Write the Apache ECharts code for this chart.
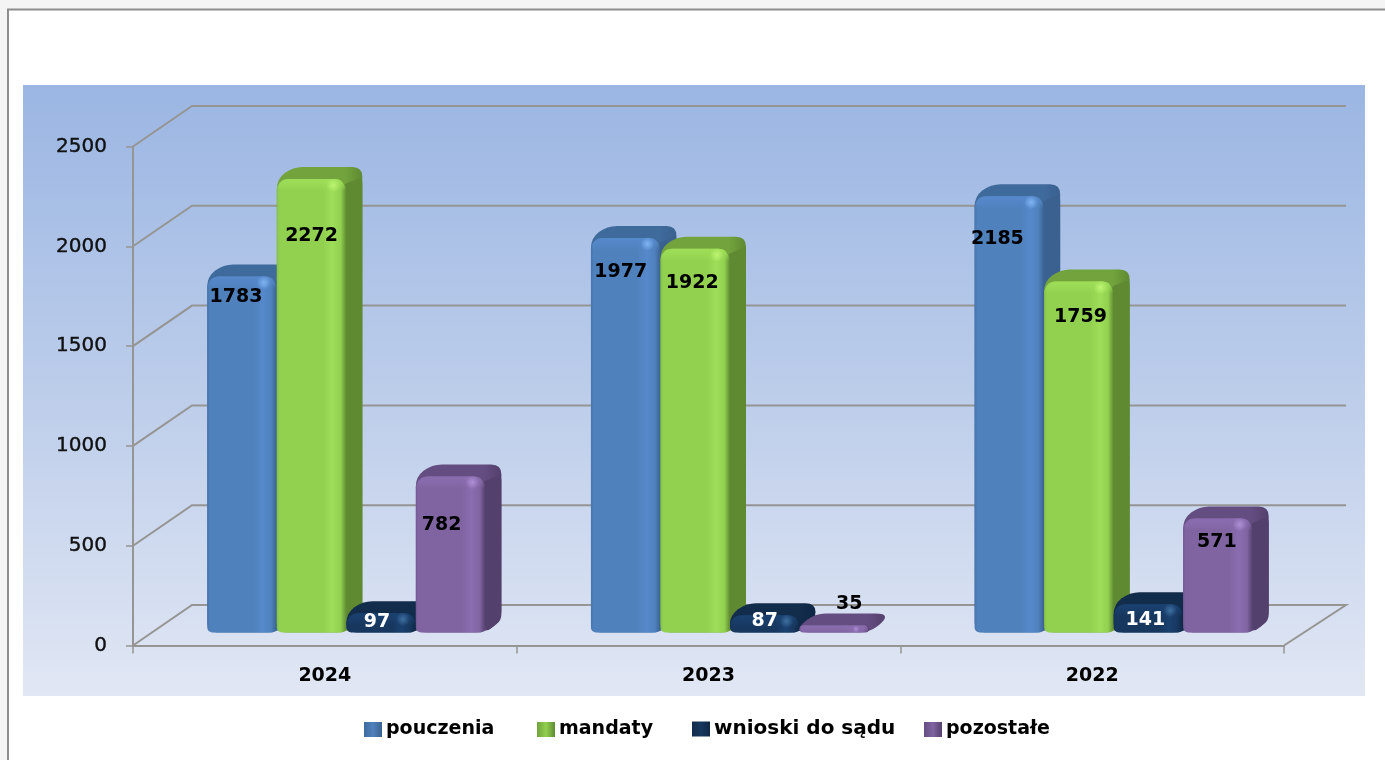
<!DOCTYPE html>
<html>
<head>
<meta charset="utf-8">
<style>html,body{margin:0;padding:0;background:#fff}#c{width:1385px;height:760px;filter:blur(0.55px)}</style>
<script src="https://cdn.jsdelivr.net/npm/echarts@6/dist/echarts.min.js"></script>
</head>
<body>
<div id="c"></div>
<script>
var categories = ['2024', '2023', '2022'];
var pouczenia = [1783, 1977, 2185];
var mandaty = [2272, 1922, 1759];
var wnioski = [97, 87, 141];
var pozostale = [782, 35, 571];
var yTicks = [0, 500, 1000, 1500, 2000, 2500];

// label nudges [dx, dy] from bar front-top centre, per series then category
var labelShift = [
  [[-6, 20], [-5, 34], [-12, 43]],
  [[0, 57], [-3, 34], [1.5, 36]],
  [[-4, 9], [0, 6], [-3, 15.5]],
  [[-9, 49], [15, -21], [-1, 23.5]]
];
var palette = [
  {name:'pouczenia', front:'#4F81BD', hi:'#5689CB', edge:'#4674AE', top:'#3F6A9C', side:'#3A6190', glint:'#7FB4F2', label:'#000', legendLeft:364, legendSize:19, legendTop:720},
  {name:'mandaty', front:'#92D050', hi:'#9EDE58', edge:'#86C249', top:'#72A33C', side:'#5F8A32', glint:'#BDF572', label:'#000', legendLeft:537, legendSize:19, legendTop:720},
  {name:'wnioski do sądu', front:'#17375E', hi:'#1A4170', edge:'#15345A', top:'#122C4B', side:'#0F2744', glint:'#3F6F9F', label:'#fff', legendLeft:692, legendSize:20, legendTop:719},
  {name:'pozostałe', front:'#8064A2', hi:'#8A6DAF', edge:'#765B96', top:'#644D81', side:'#54406D', glint:'#AE8FD6', label:'#000', legendLeft:924, legendSize:19, legendTop:720}
];
var seriesValues = [pouczenia, mandaty, wnioski, pozostale];

var DX = 16, DY = 12, LIFT = 13, SHIFT = 21.5, WALL_X = 59, WALL_Y = 40.5;
var FONT = '"DejaVu Sans", Verdana, sans-serif';

function rounded(pts, r) {
  var d = '', n = pts.length;
  for (var i = 0; i < n; i++) {
    var p = pts[i], a = pts[(i + n - 1) % n], b = pts[(i + 1) % n];
    var la = Math.hypot(a[0]-p[0], a[1]-p[1]), lb = Math.hypot(b[0]-p[0], b[1]-p[1]);
    var ra = Math.min(r, la/2), rb = Math.min(r, lb/2);
    var s = [p[0]+(a[0]-p[0])*ra/la, p[1]+(a[1]-p[1])*ra/la];
    var e = [p[0]+(b[0]-p[0])*rb/lb, p[1]+(b[1]-p[1])*rb/lb];
    d += (i ? 'L' : 'M') + s[0] + ' ' + s[1] + 'Q' + p[0] + ' ' + p[1] + ' ' + e[0] + ' ' + e[1];
  }
  return d + 'Z';
}

function barRenderer(si) {
  var c = palette[si];
  return function (params, api) {
    var cat = api.value(0), v = api.value(1);
    var band = api.size([1, 0])[0];
    var w = band * 0.1812;
    var pTop = api.coord([cat, v]), pBase = api.coord([cat, 0]);
    var cx = pTop[0] + SHIFT + (si - 1.5) * w;
    var x = cx - w / 2, t = pTop[1] - LIFT, b = pBase[1] - LIFT, h = b - t;
    var r = Math.min(11, h * 0.6);
    var sil = [[x, b], [x, t], [x+DX, t-DY], [x+w+DX, t-DY], [x+w+DX, b-DY], [x+w, b]];
    var shift = labelShift[si][cat];
    var kids = [
      {type:'path', shape:{pathData:rounded(sil, 10)}, style:{fill:new echarts.graphic.LinearGradient(0,0,1,0,[
        {offset:0, color:c.top},{offset:0.8, color:c.top},{offset:1, color:c.side}])}}
    ];
    if (h > 30) {
      kids.push({type:'path', shape:{pathData:rounded([[x+w-4, t+6], [x+w+DX, t-2], [x+w+DX, b-DY], [x+w, b]], 6)}, style:{fill:c.side}});
    }
    kids.push(
      {type:'rect', shape:{x:x, y:t, width:w, height:h, r:[r, r, 5, 5]}, style:{
        fill:new echarts.graphic.LinearGradient(0,0,1,0,[
          {offset:0, color:c.edge},{offset:0.04, color:c.front},{offset:0.66, color:c.front},
          {offset:0.8, color:c.hi},{offset:0.92, color:c.front},{offset:1, color:c.side}])
      }},
      {type:'rect', shape:{x:x+1, y:t, width:w-2, height:Math.min(12, h), r:[r, r, 0, 0]}, style:{
        fill:new echarts.graphic.LinearGradient(0,0,0,1,[
          {offset:0, color:c.hi},{offset:0.5, color:c.hi+'99'},{offset:1, color:c.hi+'00'}])
      }},
      {type:'circle', shape:{cx:x+w-13, cy:t+Math.min(6, h/2), r:Math.min(7, h/2)}, style:{
        fill:new echarts.graphic.RadialGradient(0.5,0.5,0.5,[
          {offset:0, color:c.glint},{offset:1, color:c.glint+'00'}])
      }},
      {type:'text', z2:10, style:{
        x:cx+shift[0], y:t+shift[1], text:String(v), align:'center', verticalAlign:'middle',
        font:'bold 19px ' + FONT, fill:c.label
      }}
    );
    return {type:'group', children:kids};
  };
}

function wallRenderer(params, api) {
  var v = api.value(1);
  var p = api.coord([0, v]);
  var g = params.coordSys;
  var y = p[1], x0 = g.x, x1 = g.x + g.width;
  var pts = [[x0, y], [x0+WALL_X, y-WALL_Y], [x1+62, y-WALL_Y]];
  if (v === 0) pts.push([x1, y]);
  return {type:'polyline', shape:{points:pts}, style:{stroke:'#959593', lineWidth:2, fill:null}};
}

var barSeries = seriesValues.map(function (vals, si) {
  return {
    type:'custom', name:palette[si].name, renderItem:barRenderer(si), silent:true, clip:false,
    itemStyle:{color:palette[si].front},
    encode:{x:0, y:1},
    data:categories.map(function (c, i) { return [i, vals[i]]; }),
    z:5 + si
  };
});

var legends = palette.map(function (p) {
  return {
    show:true, left:p.legendLeft, top:p.legendTop, padding:0, itemWidth:18, itemHeight:15, icon:'rect', itemGap:4,
    textStyle:{color:'#000', fontFamily:FONT, fontWeight:'bold', fontSize:p.legendSize, padding:[2,0,0,-1]},
    data:[{name:p.name, itemStyle:{
      color:new echarts.graphic.LinearGradient(0,0,1,0,[{offset:0, color:p.top},{offset:0.5, color:p.front},{offset:1, color:p.side}])
    }}]
  };
});

var chart = echarts.init(document.getElementById('c'), null, {renderer:'canvas', width:1385, height:760});
chart.setOption({
  animation:false,
  backgroundColor:'#fff',
  graphic:[
    {type:'rect', z:-10, silent:true, shape:{x:0, y:0, width:1385, height:9}, style:{fill:'#F4F4F4'}},
    {type:'rect', z:-10, silent:true, shape:{x:0, y:0, width:8, height:760}, style:{fill:'#F4F4F4'}},
    {type:'polyline', z:-9, silent:true, shape:{points:[[8, 760], [8, 9.5], [1385, 9.5]]}, style:{stroke:'#8C8C8C', lineWidth:2, fill:null}},
    {type:'rect', z:-8, silent:true, shape:{x:23, y:85, width:1342, height:611}, style:{
      fill:new echarts.graphic.LinearGradient(0,0,0,1,[{offset:0, color:'#9BB6E3'},{offset:0.5, color:'#BCCDEA'},{offset:1, color:'#E1E7F4'}])
    }}
  ],
  grid:{left:133, right:101, top:146.5, bottom:114.5, containLabel:false},
  xAxis:{
    type:'category', data:categories, boundaryGap:true,
    axisLine:{lineStyle:{color:'#959593', width:2}},
    axisTick:{show:true, length:8, lineStyle:{color:'#959593', width:1.5}},
    axisLabel:{margin:21, color:'#000', fontFamily:FONT, fontWeight:'bold', fontSize:19},
    splitLine:{show:false}
  },
  yAxis:{
    type:'value', min:0, max:2500, interval:500,
    axisLine:{show:true, lineStyle:{color:'#959593', width:2}},
    axisTick:{show:true, length:7, lineStyle:{color:'#959593', width:1.5}},
    axisLabel:{
      margin:26, color:'#111', fontFamily:FONT, fontSize:20, padding:[9,0,0,0],
      textBorderColor:'#111', textBorderWidth:0.4,
      formatter:function (v) { return String(v); }
    },
    splitLine:{show:false}
  },
  legend:legends,
  series:[{
    type:'custom', name:'wall', renderItem:wallRenderer, silent:true, clip:false, z:1,
    encode:{x:0, y:1},
    data:yTicks.map(function (v) { return [0, v]; })
  }].concat(barSeries)
});
</script>
</body>
</html>
